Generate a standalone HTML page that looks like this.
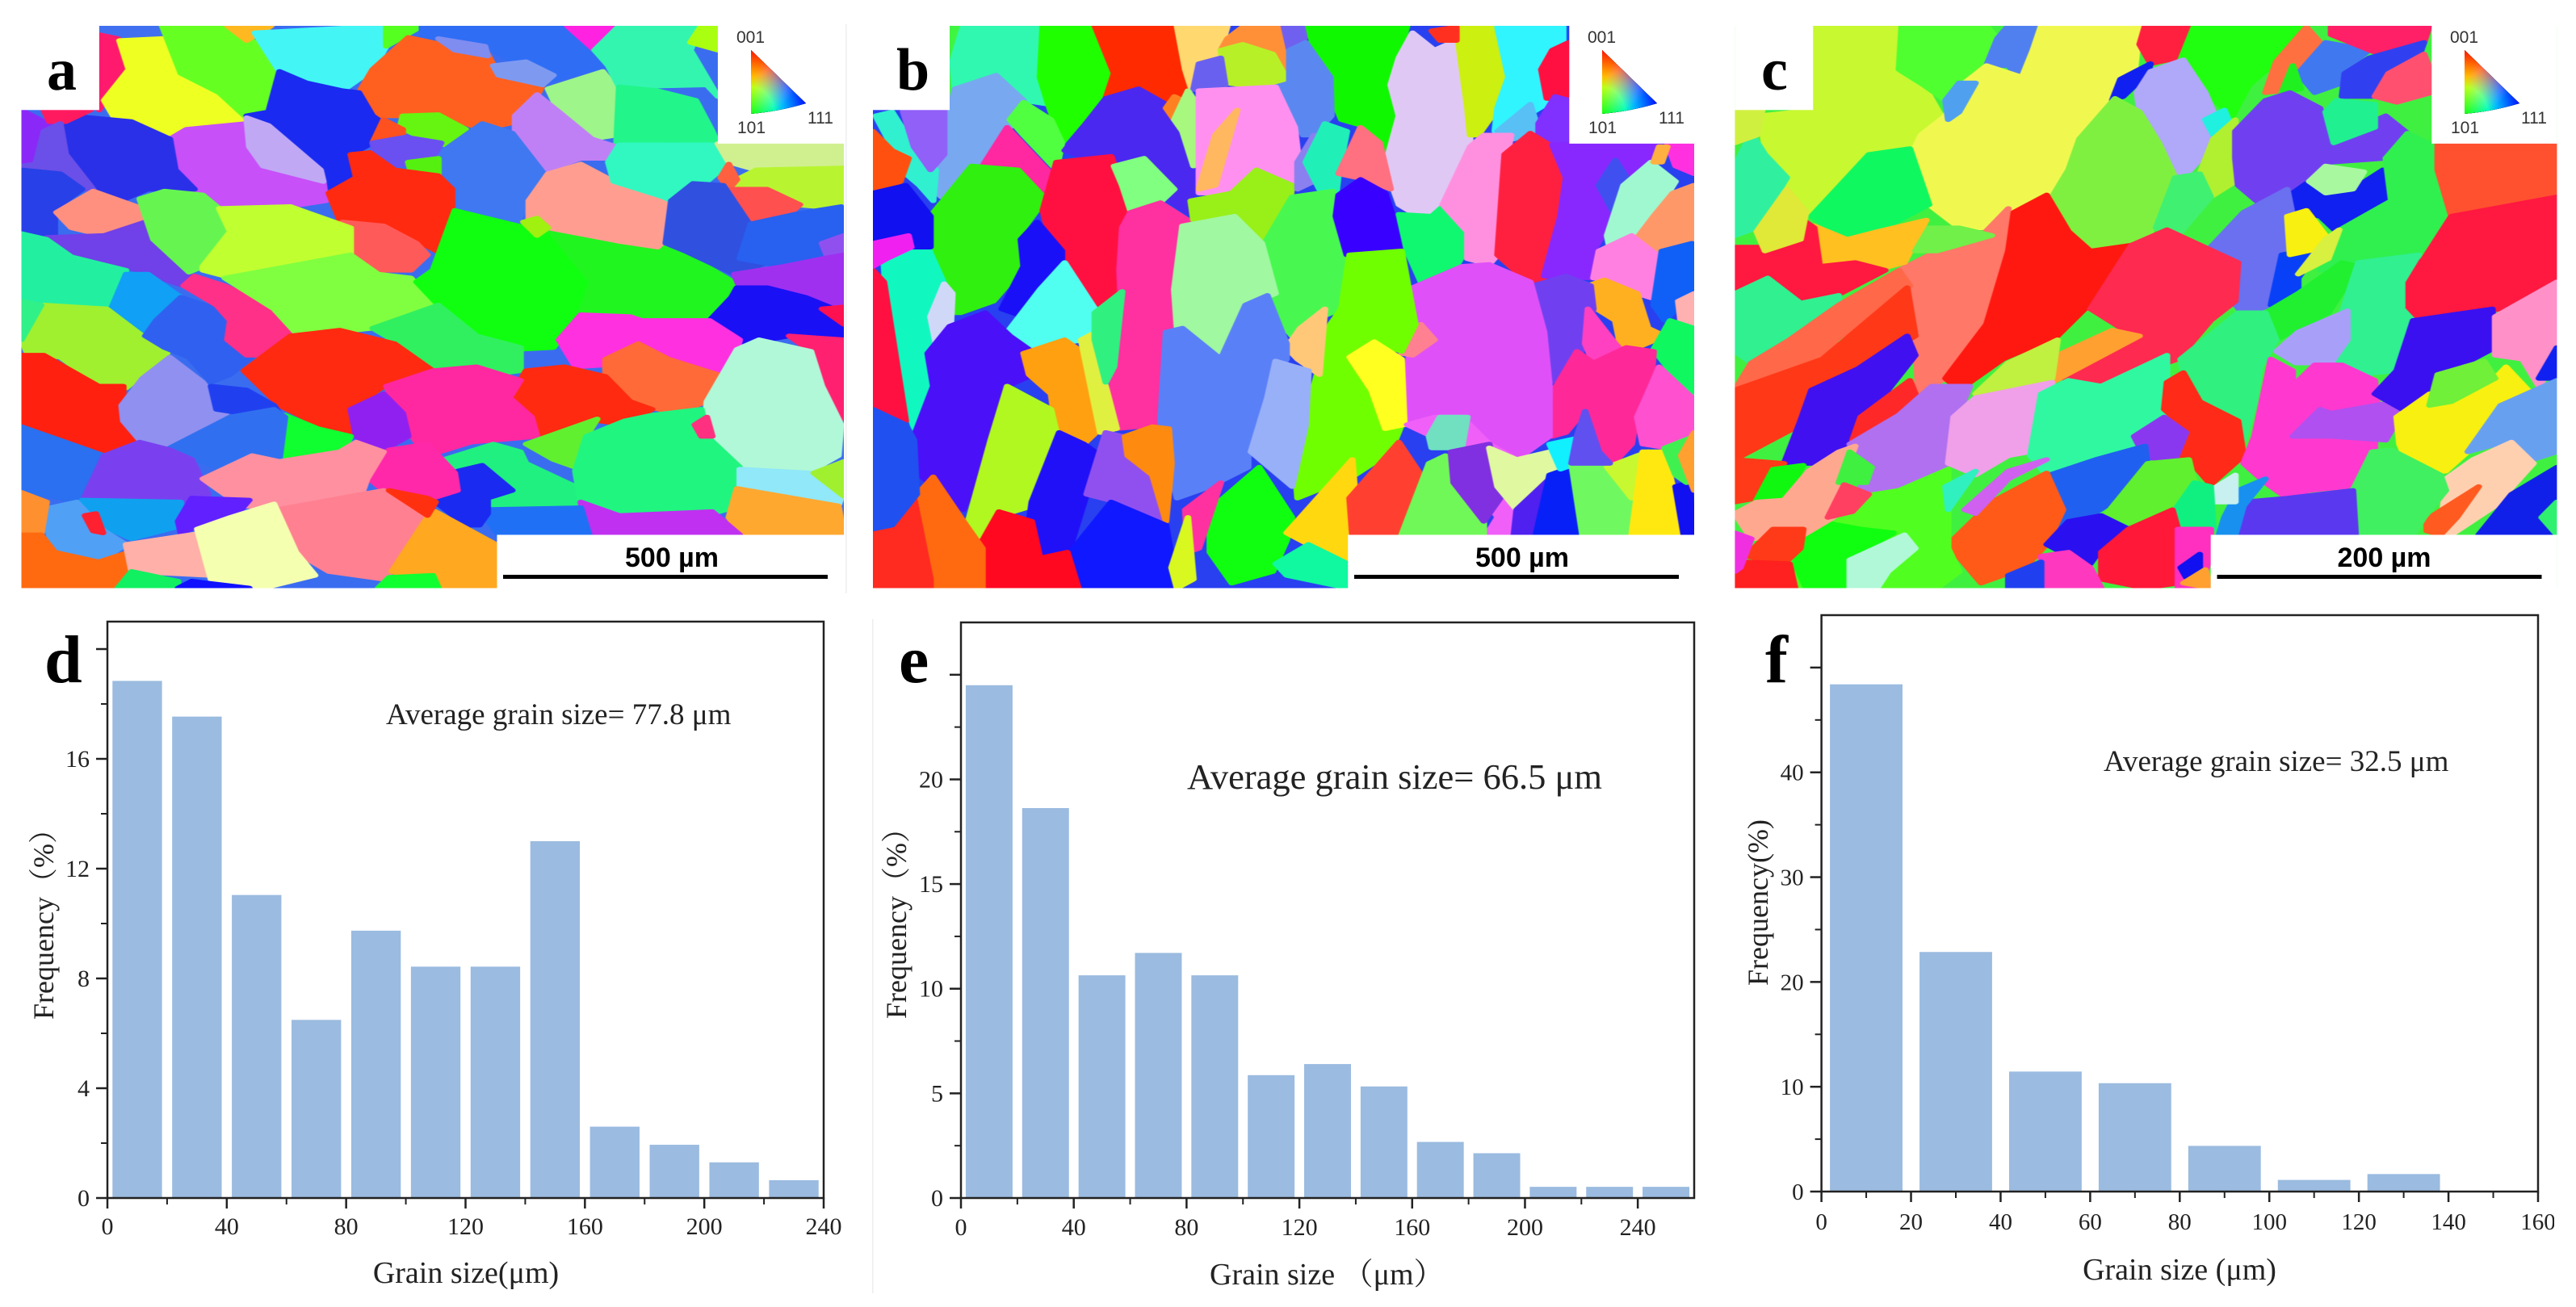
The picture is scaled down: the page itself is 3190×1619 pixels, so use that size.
<!DOCTYPE html>
<html lang="en">
<head>
<meta charset="utf-8">
<title>EBSD grain maps and grain size histograms</title>
<style>
html,body{margin:0;padding:0;background:#fff;width:3190px;height:1619px;overflow:hidden}
svg text{font-family:"Liberation Serif","Noto Serif CJK SC",serif;fill:#222}
.lab{font-weight:bold;fill:#000;font-size:74px}
.sb{font-family:"Liberation Sans",sans-serif;font-weight:bold;font-size:34px;fill:#000;text-anchor:middle}
svg text.ipf{font-family:"Liberation Sans",sans-serif;font-size:21px;fill:#333}
.map{filter:blur(.8px)}
.map polygon{stroke-width:12;stroke-linejoin:round}
.ipf-tri{isolation:isolate}
.ipf-tri path+path{mix-blend-mode:screen}
</style>
</head>
<body>
<svg id="figure" xmlns="http://www.w3.org/2000/svg" width="3190" height="1619" viewBox="0 0 3190 1619">
<defs>
<radialGradient id="ipfR" cx="0" cy="0" r="1.05"><stop offset="0" stop-color="#ff0000"/><stop offset="0.4" stop-color="#ff0000"/><stop offset="1" stop-color="#000"/></radialGradient>
<radialGradient id="ipfG" cx="0" cy="1" r="1.05"><stop offset="0" stop-color="#00ff00"/><stop offset="0.4" stop-color="#00ff00"/><stop offset="1" stop-color="#000"/></radialGradient>
<radialGradient id="ipfB" cx="1" cy="0.85" r="1.05"><stop offset="0" stop-color="#0000ff"/><stop offset="0.4" stop-color="#0000ff"/><stop offset="1" stop-color="#000"/></radialGradient>
</defs>
<rect x="1047" y="30" width="1.5" height="705" fill="#eee"/>
<rect x="1080" y="767" width="1.5" height="835" fill="#eee"/>

<svg x="26.5" y="32" width="1018.5" height="696.5" viewBox="39 67 1501 1456" preserveAspectRatio="none">
<g class="map">
<rect x="0" y="0" width="1600" height="1600" fill="#3a6cf0"/>
<polygon fill="#4070f0" points="181,67 296,67 296,100 215,100 181,90"/>
<polygon fill="#ff1a6e" points="181,90 215,100 235,180 190,260 181,285"/>
<polygon fill="#eeff22" points="218,105 296,100 330,190 400,240 450,310 330,355 215,320 190,260 235,180"/>
<polygon fill="#66ff22" points="296,67 415,67 465,110 510,190 490,300 450,305 400,240 330,190"/>
<polygon fill="#ffb820" points="415,67 495,67 450,105"/>
<polygon fill="#44f5f5" points="465,85 705,67 705,120 680,180 625,235 510,185"/>
<polygon fill="#55ff20" points="705,67 770,67 705,120"/>
<polygon fill="#2f6df5" points="770,67 1130,67 1085,130 1110,170 1000,210 900,130 770,95"/>
<polygon fill="#ff22e0" points="1035,67 1130,67 1085,130"/>
<polygon fill="#ff6020" points="745,97 890,140 910,195 990,220 960,310 880,335 830,310 735,300 680,300 655,240 680,180"/>
<polygon fill="#7f8cf0" points="800,100 885,120 890,145 830,130"/>
<polygon fill="#7e9af0" points="900,170 960,160 1010,195 990,220 910,195"/>
<polygon fill="#1a2af0" points="510,185 560,215 625,235 655,240 680,300 700,320 680,370 640,400 640,470 600,490 590,470 520,400 450,300 490,290"/>
<polygon fill="#66f510" points="735,300 800,297 850,335 810,375 760,350 730,330"/>
<polygon fill="#ff5020" points="680,370 700,310 735,335 735,355"/>
<polygon fill="#9ef58a" points="1000,230 1100,185 1130,240 1125,350 1080,360 1020,290"/>
<polygon fill="#33f5b0" points="1130,67 1280,67 1260,130 1310,250 1290,220 1130,225 1110,170 1085,130"/>
<polygon fill="#aaff10" points="1280,67 1310,67 1310,130 1260,110"/>
<polygon fill="#22f58a" points="1130,225 1200,235 1270,260 1300,340 1310,372 1210,375 1125,375"/>
<polygon fill="#c080f5" points="940,300 980,245 1020,290 1080,360 1125,380 1120,410 1060,410 990,445 940,370"/>
<polygon fill="#3f78f0" points="800,400 880,320 935,345 990,445 965,520 940,585 870,555 820,540 800,470"/>
<polygon fill="#6a50f0" points="680,370 740,355 805,370 790,410 745,425 690,430"/>
<polygon fill="#55f010" points="745,420 800,410 800,460 750,445"/>
<polygon fill="#c850f8" points="310,360 340,335 450,320 460,395 590,470 595,520 525,535 400,530 340,500 315,430"/>
<polygon fill="#c0a8f5" points="450,305 490,325 585,440 590,470 480,430 455,380"/>
<polygon fill="#ff2a10" points="640,400 675,395 720,440 800,455 825,490 825,590 810,660 770,630 720,590 660,575 620,570 600,500 650,460"/>
<polygon fill="#ff5a5a" points="625,575 700,585 760,630 780,660 750,700 690,700 640,660"/>
<polygon fill="#2a30e8" points="110,360 130,300 240,315 310,360 320,440 355,490 270,490 220,520 170,490 120,400"/>
<polygon fill="#8a28f8" points="39,285 80,315 100,315 100,380 65,425 39,430"/>
<polygon fill="#ff1a60" points="80,285 165,285 120,315 90,315"/>
<polygon fill="#6a50e8" points="80,340 110,320 120,400 170,490 140,490 100,440 39,430 65,425"/>
<polygon fill="#2840e8" points="39,440 110,450 150,490 100,540 100,610 39,600"/>
<polygon fill="#ff9080" points="103,550 170,495 260,540 265,570 190,610 130,590"/>
<polygon fill="#7040e8" points="85,615 190,610 265,575 310,660 345,710 335,740 230,690 130,660"/>
<polygon fill="#22f0a0" points="39,605 85,620 130,665 230,700 225,760 195,800 100,780 39,780"/>
<polygon fill="#10a0f5" points="230,710 270,710 330,770 285,830 260,860 200,810"/>
<polygon fill="#a0f030" points="39,880 80,790 195,800 260,870 305,915 230,1005 180,995 110,925 50,915"/>
<polygon fill="#30f088" points="39,780 75,790 39,880"/>
<polygon fill="#3060f0" points="285,830 330,770 395,800 420,830 415,880 460,925 420,970 385,990 345,925 300,900 265,870"/>
<polygon fill="#ff3088" points="335,740 355,715 410,740 500,800 545,860 510,920 450,920 415,880 420,830 395,790"/>
<polygon fill="#66f550" points="255,515 300,495 370,505 400,540 420,600 370,690 345,705 280,620"/>
<polygon fill="#c0ff30" points="400,540 530,535 640,590 640,660 520,690 410,715 370,700 370,690 420,600"/>
<polygon fill="#80ff40" points="410,720 640,660 690,710 750,720 790,790 680,850 545,870 500,800"/>
<polygon fill="#10ff10" points="790,700 830,545 960,590 1010,610 1080,730 1060,800 1010,900 940,905 870,870 800,790 760,730"/>
<polygon fill="#20f520" points="1000,590 1130,625 1215,640 1290,690 1350,740 1335,770 1295,830 1190,830 1120,810 1060,810 1080,730"/>
<polygon fill="#30f060" points="680,850 800,790 870,870 950,900 950,960 900,970 830,950 780,960 740,900"/>
<polygon fill="#ff9e90" points="965,520 1000,450 1060,425 1120,470 1210,510 1230,600 1200,640 1130,625 1000,590 965,570"/>
<polygon fill="#a0f010" points="955,575 980,565 1000,590 980,610"/>
<polygon fill="#30f8c0" points="1110,420 1130,375 1310,375 1340,410 1290,470 1225,520 1210,510 1120,470"/>
<polygon fill="#d0f090" points="1310,372 1540,372 1540,440 1380,440 1330,420"/>
<polygon fill="#b8f530" points="1345,465 1380,440 1540,435 1535,540 1450,530 1400,490 1340,490"/>
<polygon fill="#ff6040" points="1315,460 1330,425 1345,465 1330,490"/>
<polygon fill="#ff5050" points="1335,490 1400,490 1460,530 1440,555 1375,575"/>
<polygon fill="#3050e0" points="1225,520 1265,475 1320,480 1365,575 1400,680 1340,710 1250,650 1215,630"/>
<polygon fill="#2860f0" points="1370,580 1450,555 1535,535 1540,650 1500,660 1430,690 1350,670"/>
<polygon fill="#9050f0" points="1500,630 1540,610 1540,650 1510,665"/>
<polygon fill="#a030f0" points="1340,710 1430,690 1500,670 1540,660 1540,800 1470,770 1400,745 1350,745"/>
<polygon fill="#1a10f5" points="1295,830 1335,770 1345,745 1400,745 1470,770 1540,810 1540,880 1440,870 1360,890"/>
<polygon fill="#ff1050" points="1500,800 1540,795 1540,840"/>
<polygon fill="#ff30e0" points="1020,880 1060,815 1150,820 1170,830 1190,830 1295,830 1350,880 1340,930 1310,970 1220,930 1160,890 1105,920 1105,945 1050,950"/>
<polygon fill="#ff6a38" points="1105,930 1165,890 1220,930 1310,970 1320,1010 1290,1040 1230,1070 1150,1040 1105,985"/>
<polygon fill="#ff2070" points="1440,870 1540,880 1540,1080 1530,1090 1500,1000 1480,910"/>
<polygon fill="#b0f8d8" points="1290,1040 1345,905 1385,880 1480,910 1500,1000 1535,1100 1530,1180 1480,1220 1360,1215 1285,1130"/>
<polygon fill="#ff2a10" points="445,960 530,870 620,855 720,890 790,960 700,1000 640,1060 640,1120 610,1120 510,1050"/>
<polygon fill="#ff2a10" points="930,1030 960,960 1030,950 1105,975 1150,1040 1190,1060 1140,1100 1070,1085 985,1145 970,1080"/>
<polygon fill="#ff28a0" points="705,1000 790,960 870,950 950,985 930,1030 970,1080 980,1130 860,1145 780,1180 735,1100"/>
<polygon fill="#9020f0" points="640,1060 700,1020 735,1070 745,1130 700,1165 650,1130"/>
<polygon fill="#10ff30" points="520,1075 580,1110 640,1130 625,1170 510,1195 510,1130"/>
<polygon fill="#ff2010" points="39,920 80,920 180,1000 225,1000 225,1100 255,1140 185,1180 110,1140 39,1100"/>
<polygon fill="#9090f0" points="222,1050 260,980 310,925 370,990 420,1090 380,1130 310,1160 255,1140 225,1090"/>
<polygon fill="#2040f0" points="385,1000 450,1010 500,1050 510,1070 440,1070 395,1060"/>
<polygon fill="#3070f0" points="310,1160 420,1080 500,1060 520,1080 510,1190 430,1230 340,1180"/>
<polygon fill="#2a70f0" points="39,1105 110,1140 190,1180 160,1270 150,1300 39,1270"/>
<polygon fill="#7a40f0" points="190,1180 255,1145 310,1165 350,1190 380,1280 330,1300 150,1300 160,1270"/>
<polygon fill="#20f080" points="810,1190 900,1150 950,1170 960,1200 1050,1260 1060,1310 890,1330 900,1290 860,1210 830,1220"/>
<polygon fill="#60f030" points="960,1150 1090,1085 1070,1130 1050,1210 1010,1190"/>
<polygon fill="#20f580" points="1050,1220 1070,1130 1140,1090 1190,1075 1280,1060 1290,1130 1350,1210 1350,1310 1300,1330 1130,1335 1060,1300"/>
<polygon fill="#ff3080" points="1268,1100 1290,1080 1300,1130 1280,1130"/>
<polygon fill="#90e8f8" points="1350,1215 1480,1225 1535,1290 1530,1310 1350,1265"/>
<polygon fill="#a0f030" points="1485,1225 1540,1195 1540,1285"/>
<polygon fill="#ffa830" points="1330,1340 1345,1265 1530,1310 1540,1385 1355,1385"/>
<polygon fill="#c030f0" points="1060,1300 1130,1335 1300,1325 1350,1385 1070,1385"/>
<polygon fill="#2070f5" points="875,1320 1060,1315 1075,1385 910,1385"/>
<polygon fill="#1a2af0" points="795,1300 835,1220 880,1205 935,1270 890,1290 890,1330 875,1360 850,1360"/>
<polygon fill="#ff28a8" points="670,1235 710,1165 780,1150 830,1225 835,1270 790,1290 700,1270"/>
<polygon fill="#ff90a0" points="370,1240 460,1180 510,1195 620,1170 650,1145 700,1170 670,1240 660,1280 510,1315 440,1310"/>
<polygon fill="#ff8090" points="505,1320 660,1280 700,1270 780,1340 770,1400 700,1500 600,1480 540,1430"/>
<polygon fill="#10a0f0" points="150,1295 330,1300 335,1360 240,1395 200,1370 155,1340"/>
<polygon fill="#6020ff" points="325,1350 350,1290 455,1295 415,1360 385,1350 330,1380"/>
<polygon fill="#50a0f5" points="75,1320 140,1300 190,1375 230,1410 180,1455 100,1430"/>
<polygon fill="#ff2030" points="155,1335 175,1330 188,1380 170,1375"/>
<polygon fill="#ff9030" points="39,1275 85,1300 75,1385 39,1385"/>
<polygon fill="#ff6a10" points="39,1385 75,1385 100,1430 180,1455 235,1430 240,1480 215,1523 39,1523"/>
<polygon fill="#ffb0a8" points="230,1410 370,1380 380,1490 240,1480"/>
<polygon fill="#f5ffb0" points="360,1370 420,1340 500,1305 540,1430 575,1490 480,1523 385,1500"/>
<polygon fill="#ffa820" points="780,1340 795,1325 905,1410 907,1523 800,1523 715,1480"/>
<polygon fill="#ff3010" points="710,1270 780,1290 795,1300 780,1335"/>
<polygon fill="#10f060" points="215,1523 240,1480 325,1505 325,1523"/>
<polygon fill="#1010ff" points="325,1523 350,1505 455,1523"/>
<polygon fill="#10ff30" points="690,1523 710,1495 790,1490 800,1523"/>
</g>
<rect x="39" y="60" width="142" height="225" fill="#fff"/>
<rect x="1310" y="60" width="235" height="312" fill="#fff"/>
<rect x="907" y="1385" width="640" height="145" fill="#fff"/>
</svg>

<svg x="1081" y="32" width="1017" height="696.5" viewBox="25 67 1499 1456" preserveAspectRatio="none">
<g class="map">
<rect x="0" y="0" width="1600" height="1600" fill="#2840f0"/>
<polygon fill="#40f540" points="165,67 190,67 170,210 165,285"/>
<polygon fill="#30f8b0" points="190,67 335,67 330,200 345,270 300,260 250,195 175,230 170,160"/>
<polygon fill="#20ff00" points="335,67 430,67 465,190 450,260 400,320 370,370 345,270 330,200"/>
<polygon fill="#ff2a00" points="430,67 580,67 600,230 560,270 510,230 450,255 465,190"/>
<polygon fill="#ffd870" points="580,67 672,67 655,150 620,165 605,225 595,180"/>
<polygon fill="#ff9038" points="672,100 700,70 770,67 785,200 755,140 700,115 660,130"/>
<polygon fill="#7060f0" points="775,67 820,67 810,110 785,130"/>
<polygon fill="#b8f028" points="660,130 700,115 755,140 785,215 730,225 670,215"/>
<polygon fill="#6a60f0" points="620,165 660,150 668,220 610,232"/>
<polygon fill="#10f800" points="820,67 1000,67 985,150 970,220 985,300 965,395 930,330 880,310 860,240 830,130"/>
<polygon fill="#5a88f0" points="760,225 785,215 785,130 815,110 860,200 862,300 830,350 810,350 790,290"/>
<polygon fill="#e0c8f5" points="1010,85 1050,130 1090,105 1115,300 1115,380 1095,440 1060,540 1020,560 985,530 960,430 985,300 970,220 985,150"/>
<polygon fill="#ccf010" points="1090,70 1165,70 1185,200 1165,280 1130,350 1115,350 1110,280"/>
<polygon fill="#30f5ff" points="1165,70 1285,67 1285,130 1245,180 1265,260 1230,290 1195,340 1160,340 1165,280 1185,200"/>
<polygon fill="#ff1040" points="1265,130 1295,110 1296,260 1255,255 1245,180"/>
<polygon fill="#ff3020" points="1045,80 1090,70 1090,105 1060,105"/>
<polygon fill="#58c0f5" points="1165,340 1225,270 1240,340 1195,360"/>
<polygon fill="#8030ff" points="1240,320 1270,250 1296,260 1296,372 1240,372"/>
<polygon fill="#78a8f0" points="155,330 175,230 250,195 300,260 275,330 225,420 150,510 130,480"/>
<polygon fill="#30f0d0" points="30,300 60,290 100,380 140,440 135,520 110,480 85,450 75,420"/>
<polygon fill="#9060f8" points="80,288 155,288 155,400 130,440 100,380"/>
<polygon fill="#ff5010" points="25,340 60,390 90,410 75,470 25,500"/>
<polygon fill="#50ff40" points="275,310 300,265 350,310 370,370 360,440 300,350"/>
<polygon fill="#ff28a0" points="225,430 270,330 350,450 345,510 285,440"/>
<polygon fill="#4a28f0" points="375,390 450,255 510,230 560,270 600,330 605,430 615,470 600,550 535,490 470,410 415,410"/>
<polygon fill="#30f010" points="130,560 205,430 290,440 340,515 285,620 300,690 245,780 185,810 165,810 130,650"/>
<polygon fill="#ff1040" points="335,545 360,420 460,405 495,545 480,590 475,750 440,810 410,730 380,670 345,600"/>
<polygon fill="#80ff80" points="465,430 520,410 575,490 530,550 495,545 480,480"/>
<polygon fill="#ff30a0" points="480,590 495,550 550,525 600,570 590,650 570,810 560,960 545,1100 470,1110 460,970 480,860 475,700"/>
<polygon fill="#ff8020" points="560,280 575,250 590,260 575,310"/>
<polygon fill="#a8f880" points="575,310 600,235 630,300 610,430 590,340"/>
<polygon fill="#ff90f0" points="620,235 760,225 795,330 805,450 790,490 760,450 650,500 620,500"/>
<polygon fill="#ffb860" points="620,490 650,350 690,285 650,480"/>
<polygon fill="#98f018" points="605,520 680,500 725,440 790,480 780,590 735,630 685,570 610,570"/>
<polygon fill="#8a80f0" points="800,420 830,350 830,470 800,490"/>
<polygon fill="#20f0b8" points="815,420 850,320 890,340 875,450 870,510 840,490"/>
<polygon fill="#ff7080" points="875,450 915,330 950,370 970,490 925,465"/>
<polygon fill="#48f850" points="740,630 790,510 865,495 875,560 885,680 880,800 845,820 790,870 760,820"/>
<polygon fill="#3800ff" points="870,560 875,505 915,465 960,500 995,650 920,650 890,660"/>
<polygon fill="#10f870" points="985,555 1045,560 1065,535 1100,535 1110,640 1090,690 1030,745 1000,650"/>
<polygon fill="#ff90e0" points="1065,530 1115,380 1140,350 1190,350 1175,450 1165,660 1150,685 1110,670 1110,600"/>
<polygon fill="#ff2040" points="1165,660 1178,400 1225,345 1265,380 1290,460 1260,600 1250,720 1220,730"/>
<polygon fill="#8828ff" points="1265,375 1460,372 1440,420 1390,480 1365,590 1340,650 1340,720 1250,715 1280,560 1290,460"/>
<polygon fill="#4050f0" points="1350,480 1380,415 1410,480 1375,545"/>
<polygon fill="#a0f8d0" points="1365,610 1395,480 1445,420 1490,470 1450,560 1410,610 1375,680"/>
<polygon fill="#ff9868" points="1415,625 1450,560 1485,500 1523,480 1523,620 1460,650"/>
<polygon fill="#ff30e0" points="1475,372 1524,372 1524,450 1490,430"/>
<polygon fill="#ffb040" points="1450,420 1460,380 1475,380 1465,420"/>
<polygon fill="#ff80e0" points="1340,720 1350,650 1410,610 1465,670 1465,780 1420,760 1360,725"/>
<polygon fill="#1060f8" points="1465,650 1520,630 1523,760 1500,790 1470,830 1450,790"/>
<polygon fill="#ffb0b0" points="1495,780 1524,760 1524,840 1500,840"/>
<polygon fill="#ffb020" points="1330,740 1360,725 1420,760 1440,850 1470,870 1420,900 1390,900 1380,830 1335,790"/>
<polygon fill="#10f860" points="1450,905 1480,830 1524,850 1524,1035 1480,960"/>
<polygon fill="#7040f0" points="1230,740 1290,715 1335,740 1340,800 1320,900 1300,970 1260,990 1250,860"/>
<polygon fill="#ff40c0" points="1325,890 1330,800 1380,890 1390,905 1340,940"/>
<polygon fill="#ff2898" points="1260,1030 1310,910 1340,940 1400,900 1450,910 1445,1000 1420,1070 1410,1150 1380,1195 1350,1170 1320,1070 1290,1120 1265,1130"/>
<polygon fill="#ff50d0" points="1420,1080 1445,1000 1460,950 1524,1035 1524,1130 1475,1160 1430,1150"/>
<polygon fill="#e050f8" points="1000,960 1015,800 1010,745 1100,690 1150,685 1225,730 1250,860 1260,1000 1260,1130 1200,1190 1150,1150 1100,1080 1040,1070 1000,1100"/>
<polygon fill="#ff8090" points="990,915 1025,840 1050,880 1010,920"/>
<polygon fill="#70ff00" points="880,800 895,660 990,650 1015,840 990,910 940,885 900,925 945,1010 990,1100 970,1170 905,1230 800,1290 795,1200 830,1000 860,840"/>
<polygon fill="#ffff20" points="895,925 940,885 990,930 995,1100 960,1110 935,1010"/>
<polygon fill="#ffc878" points="780,900 805,850 850,800 840,970 800,930"/>
<polygon fill="#a0f8a0" points="575,750 590,585 685,560 735,630 760,760 710,790 660,930 600,860 580,850"/>
<polygon fill="#5a80f8" points="560,860 590,850 660,930 705,790 745,765 780,890 780,930 740,1030 710,1170 710,1210 640,1260 580,1290 550,1090"/>
<polygon fill="#98b0f8" points="715,1170 745,1030 760,935 820,960 815,1100 790,1260 740,1200"/>
<polygon fill="#10f8c0" points="45,680 70,660 125,640 155,735 130,790 130,870 125,910 135,1000 105,1130 75,1000 50,800"/>
<polygon fill="#d0d8f8" points="130,820 155,735 170,760 165,905 145,925"/>
<polygon fill="#ff1040" points="25,700 45,730 85,1090 25,1060"/>
<polygon fill="#1010f0" points="25,500 85,480 130,560 130,640 75,640 25,630"/>
<polygon fill="#f020f0" points="25,630 90,610 95,640 50,670 25,690"/>
<polygon fill="#1a10f8" points="295,620 325,575 370,650 370,685 300,820 260,800 300,690"/>
<polygon fill="#50fff0" points="265,870 330,750 375,680 435,810 410,880 300,905"/>
<polygon fill="#4a10f8" points="125,915 165,845 230,810 275,870 310,905 310,975 270,1000 280,1060 240,1140 190,1320 110,1230 100,1130 135,1000"/>
<polygon fill="#ffa010" points="300,915 375,880 405,910 440,1060 440,1110 410,1150 360,1120 350,1020 310,970"/>
<polygon fill="#e0f040" points="405,880 425,865 470,1110 440,1120"/>
<polygon fill="#30f080" points="430,810 480,755 465,950 450,990 430,880"/>
<polygon fill="#b0f820" points="195,1370 240,1140 270,1000 350,1060 360,1120 340,1300 270,1330 225,1400"/>
<polygon fill="#2010f8" points="315,1300 365,1120 410,1150 450,1190 415,1280 380,1440 330,1440 310,1350"/>
<polygon fill="#9050f0" points="450,1120 480,1130 490,1180 535,1230 555,1350 470,1300 415,1280"/>
<polygon fill="#ff8a10" points="485,1130 535,1105 565,1110 570,1200 560,1350 535,1230 490,1180"/>
<polygon fill="#1018ff" points="380,1440 460,1300 560,1360 580,1523 400,1523 390,1480"/>
<polygon fill="#ff0820" points="225,1400 255,1325 315,1350 330,1445 380,1430 400,1523 222,1523 230,1430"/>
<polygon fill="#ff6a10" points="100,1290 135,1235 195,1360 225,1420 225,1523 130,1523 115,1400"/>
<polygon fill="#ff2a20" points="25,1370 50,1365 100,1290 130,1500 130,1523 25,1523"/>
<polygon fill="#2050f0" points="25,1060 85,1100 100,1140 105,1280 60,1360 25,1370"/>
<polygon fill="#10ff10" points="640,1320 730,1210 790,1340 780,1400 755,1480 680,1510 640,1430"/>
<polygon fill="#ff30a0" points="595,1320 660,1250 620,1420 600,1430"/>
<polygon fill="#d8f820" points="570,1470 600,1340 610,1500 580,1523"/>
<polygon fill="#ffd810" points="780,1380 900,1190 905,1280 895,1385 892,1460 820,1410"/>
<polygon fill="#10f8a0" points="760,1460 820,1410 892,1460 892,1523 780,1490"/>
<polygon fill="#ff4030" points="895,1290 985,1145 1025,1230 1035,1310 990,1385 900,1385"/>
<polygon fill="#f060f8" points="1000,1100 1050,1080 1100,1080 1150,1150 1200,1190 1260,1200 1215,1270 1195,1385 1145,1385 1165,1340 1090,1160"/>
<polygon fill="#70f858" points="1040,1200 1070,1180 1140,1340 1140,1385 990,1385"/>
<polygon fill="#70e0c0" points="1040,1130 1060,1080 1110,1080 1100,1160 1045,1160"/>
<polygon fill="#8030e0" points="1080,1170 1150,1150 1170,1290 1140,1350 1085,1250"/>
<polygon fill="#e0f8a0" points="1150,1160 1200,1190 1260,1170 1270,1220 1200,1320 1165,1260"/>
<polygon fill="#5020f0" points="1200,1320 1260,1240 1235,1385 1195,1385"/>
<polygon fill="#0820f8" points="1235,1385 1260,1230 1290,1215 1320,1385"/>
<polygon fill="#10f0ff" points="1260,1150 1310,1135 1310,1200 1280,1215"/>
<polygon fill="#70f860" points="1300,1200 1370,1210 1410,1290 1410,1385 1320,1385"/>
<polygon fill="#c8f830" points="1365,1210 1420,1180 1440,1170 1410,1290"/>
<polygon fill="#ffe810" points="1410,1385 1430,1170 1470,1170 1505,1385"/>
<polygon fill="#1010f0" points="1490,1260 1515,1250 1524,1385 1505,1385"/>
<polygon fill="#6050f0" points="1310,1130 1325,1065 1350,1170 1370,1200 1300,1200"/>
<polygon fill="#40f050" points="1470,1160 1524,1130 1510,1250 1490,1230"/>
<polygon fill="#ffa030" points="1500,1180 1524,1120 1524,1270"/>
</g>
<rect x="20" y="60" width="145" height="225" fill="#fff"/>
<rect x="1296" y="60" width="235" height="312" fill="#fff"/>
<rect x="892" y="1385" width="640" height="145" fill="#fff"/>
</svg>

<svg x="2148.4" y="32" width="1018" height="696.5" viewBox="30 67 1503 1456" preserveAspectRatio="none">
<g class="map">
<rect x="0" y="0" width="1600" height="1600" fill="#40f040"/>
<polygon fill="#c8f830" points="173,67 335,67 330,180 375,220 415,320 345,390 270,405 180,560 100,510 125,460 85,380 75,300 173,285"/>
<polygon fill="#50ff30" points="335,67 490,67 510,100 480,180 440,215 415,260 375,220 330,180"/>
<polygon fill="#5080f0" points="510,100 530,67 590,67 570,130 550,200 530,170 490,170"/>
<polygon fill="#f0f850" points="590,67 770,67 760,200 715,270 660,360 640,460 605,510 540,545 490,590 440,590 385,530 340,440 370,350 415,300 445,220 490,170 555,200 575,130"/>
<polygon fill="#50a0f0" points="415,260 440,215 470,215 440,290 420,310"/>
<polygon fill="#ff2040" points="780,67 870,67 840,150 790,165 770,115"/>
<polygon fill="#20ff10" points="870,67 1075,67 1020,160 970,220 940,300 890,240 845,155"/>
<polygon fill="#1020f0" points="720,260 735,205 790,165 785,190 740,250"/>
<polygon fill="#b0a8f8" points="765,240 790,185 850,155 890,240 905,290 895,390 850,460 810,400 800,350 770,290"/>
<polygon fill="#80f040" points="610,510 640,440 660,360 725,255 770,290 805,370 835,460 800,560 790,600 755,630 680,650 640,600"/>
<polygon fill="#20f0e0" points="890,310 925,285 935,320 905,350"/>
<polygon fill="#b0f030" points="880,450 905,360 945,310 950,390 945,470 900,510"/>
<polygon fill="#40f070" points="800,590 835,460 880,450 900,510 840,610"/>
<polygon fill="#ff7040" points="1000,240 1020,160 1075,70 1100,110 1060,170 1030,235"/>
<polygon fill="#4078f0" points="1060,190 1110,110 1190,130 1145,180 1140,215 1090,240"/>
<polygon fill="#ff2068" points="1120,67 1300,67 1290,110 1220,145 1190,130 1120,90"/>
<polygon fill="#3040f0" points="1145,190 1190,150 1290,110 1280,150 1215,190 1200,250 1140,250"/>
<polygon fill="#ff5070" points="1200,250 1225,190 1290,140 1304,190 1304,240 1240,265"/>
<polygon fill="#20f020" points="1030,240 1050,170 1065,230"/>
<polygon fill="#7040f0" points="945,410 945,340 1000,260 1045,240 1100,280 1110,350 1120,360 1220,300 1260,345 1220,410 1120,420 1060,480 1000,540 950,480"/>
<polygon fill="#20f090" points="1110,290 1130,260 1200,270 1200,330 1125,370"/>
<polygon fill="#1020f0" points="1040,510 1075,475 1110,500 1160,490 1215,440 1230,520 1130,600 1100,560 1050,550"/>
<polygon fill="#a8f8a0" points="1080,470 1110,430 1180,445 1160,490 1110,500"/>
<polygon fill="#30f050" points="1230,520 1220,410 1260,345 1300,372 1330,440 1330,540 1300,640 1270,660 1180,680 1140,690 1100,700 1130,600"/>
<polygon fill="#ff5030" points="1315,372 1533,372 1533,540 1410,540 1340,560 1315,440"/>
<polygon fill="#ff1840" points="1340,560 1533,510 1533,730 1430,800 1290,830 1250,800 1250,730 1290,670"/>
<polygon fill="#6a70f0" points="900,640 960,550 1040,490 1050,560 1030,660 1010,790 960,815 940,780 950,680"/>
<polygon fill="#0840f8" points="1010,790 1030,660 1100,640 1060,720 1060,760"/>
<polygon fill="#f8f010" points="1040,560 1075,545 1110,610 1110,640 1045,660"/>
<polygon fill="#d8f040" points="1060,710 1110,620 1135,595 1115,670"/>
<polygon fill="#20f030" points="1000,810 1060,760 1140,680 1170,690 1115,810 1020,880"/>
<polygon fill="#30f090" points="1140,810 1170,680 1280,660 1250,730 1250,800 1270,830 1240,960 1170,970 1130,940"/>
<polygon fill="#a8a0f8" points="1020,910 1060,860 1150,805 1150,880 1120,940 1055,940"/>
<polygon fill="#ff7868" points="330,700 400,650 475,620 530,540 520,700 490,840 415,980 365,1020 360,860 345,780"/>
<polygon fill="#ff1810" points="415,980 490,840 530,650 540,550 600,505 640,600 680,650 755,635 720,720 670,800 620,870 520,930 440,1010"/>
<polygon fill="#ff2a50" points="680,800 755,635 820,595 950,680 945,780 900,830 870,880 840,930 700,1000 640,990 610,950 770,880"/>
<polygon fill="#ffa030" points="620,920 720,855 770,870 690,930 610,990"/>
<polygon fill="#c0f040" points="470,1020 530,940 620,880 610,980 500,1040"/>
<polygon fill="#10f860" points="170,560 275,400 350,385 385,530 290,600 235,620"/>
<polygon fill="#ffc020" points="150,620 175,585 235,620 290,600 380,570 340,680 300,695 250,680 190,690"/>
<polygon fill="#70f048" points="360,650 385,590 440,590 500,610 400,650"/>
<polygon fill="#ff1840" points="30,640 85,640 150,565 175,590 185,690 250,680 305,700 210,770 150,785 90,720 30,760"/>
<polygon fill="#30f0a0" points="30,430 60,345 85,400 125,460 70,590 30,610"/>
<polygon fill="#e0e838" points="70,600 125,490 160,550 150,620 85,650"/>
<polygon fill="#d0f040" points="30,285 80,285 70,350 30,370"/>
<polygon fill="#30f090" points="30,760 90,720 150,785 220,765 220,800 130,880 60,940 30,910"/>
<polygon fill="#ff6848" points="30,1010 60,940 130,880 220,790 330,700 350,740 215,880 150,1010"/>
<polygon fill="#ff3818" points="30,1190 30,1010 190,930 345,745 360,870 255,960 170,1010 150,1100"/>
<polygon fill="#4010f0" points="120,1200 150,1090 170,1010 255,955 345,870 360,920 310,1010 260,1080 245,1150 170,1200"/>
<polygon fill="#ff2828" points="245,1140 260,1080 350,985 360,1020 330,1070"/>
<polygon fill="#ff3a18" points="30,1300 30,1190 120,1200 70,1290"/>
<polygon fill="#10f810" points="68,1300 100,1215 155,1205 120,1295"/>
<polygon fill="#b070f0" points="240,1150 330,1075 390,1000 460,1000 430,1100 420,1200 350,1250 265,1280"/>
<polygon fill="#f0a0e8" points="420,1200 430,1080 470,1030 610,990 590,1060 570,1170 530,1180 470,1230"/>
<polygon fill="#30f8a0" points="590,1020 640,985 700,1000 820,920 820,1060 760,1150 690,1190 600,1230 570,1180"/>
<polygon fill="#30f080" points="845,930 950,810 1000,810 1020,880 990,950 980,1040 960,1140 940,1080 880,1040 850,965"/>
<polygon fill="#ff2a18" points="815,1060 820,990 850,965 880,1040 950,1090 960,1180 900,1255 860,1190 830,1180 855,1110"/>
<polygon fill="#8a38f0" points="760,1130 815,1080 855,1120 835,1190 780,1185"/>
<polygon fill="#ff38d0" points="980,1130 1010,930 1050,960 1050,1000 1090,945 1140,945 1200,985 1205,1050 1120,1130 1200,1120 1200,1200 1150,1260 1080,1270 1040,1290 1000,1250 960,1200"/>
<polygon fill="#b050f0" points="1050,1130 1100,1060 1120,1070 1240,1040 1245,1080 1220,1140 1120,1130"/>
<polygon fill="#3a10f0" points="1200,1020 1240,960 1270,830 1415,800 1420,900 1340,960 1300,1010 1250,1060"/>
<polygon fill="#ff90c8" points="1420,820 1533,730 1533,930 1500,1000 1470,930 1420,920"/>
<polygon fill="#1020f0" points="1500,980 1533,900 1533,980"/>
<polygon fill="#f8f010" points="1240,1080 1300,1020 1340,1050 1420,980 1440,950 1480,1010 1430,1050 1370,1170 1330,1220 1270,1230 1245,1150"/>
<polygon fill="#70f038" points="1300,1050 1315,970 1400,935 1420,980 1340,1040"/>
<polygon fill="#68a0f0" points="1370,1170 1430,1050 1533,985 1533,1170 1490,1190 1450,1140"/>
<polygon fill="#ffd0b0" points="1330,1240 1380,1190 1450,1145 1490,1200 1420,1310 1340,1385 1320,1385"/>
<polygon fill="#ff5a20" points="1295,1345 1390,1260 1350,1340 1320,1385 1295,1375"/>
<polygon fill="#1020e8" points="1390,1385 1450,1280 1533,1210 1533,1310 1505,1340 1533,1385"/>
<polygon fill="#30f070" points="1505,1340 1533,1300 1533,1385"/>
<polygon fill="#40f060" points="1160,1270 1195,1170 1230,1165 1320,1230 1330,1270 1290,1340 1270,1385 1165,1385"/>
<polygon fill="#5a38f0" points="945,1385 960,1300 1040,1290 1160,1270 1165,1385"/>
<polygon fill="#1890f0" points="925,1340 950,1270 1000,1240 960,1310 945,1385 915,1385"/>
<polygon fill="#c8f0f0" points="900,1270 945,1230 945,1300 900,1300"/>
<polygon fill="#2060f0" points="605,1230 690,1190 780,1155 785,1210 720,1300 620,1390"/>
<polygon fill="#60f030" points="710,1330 785,1200 860,1190 870,1250 835,1320 780,1370"/>
<polygon fill="#10f080" points="835,1320 870,1250 900,1260 905,1370 840,1370"/>
<polygon fill="#ff5a18" points="420,1410 500,1300 600,1225 630,1320 600,1410 560,1470 480,1510"/>
<polygon fill="#2a10f0" points="600,1410 640,1350 700,1335 750,1370 700,1420 680,1460 640,1440"/>
<polygon fill="#ff1838" points="700,1430 750,1370 830,1320 840,1370 840,1510 780,1523 700,1500"/>
<polygon fill="#ff30c0" points="840,1370 900,1370 900,1440 880,1523 840,1523"/>
<polygon fill="#1010f0" points="845,1470 880,1435 880,1470 855,1495"/>
<polygon fill="#ffa030" points="850,1510 890,1475 900,1523"/>
<polygon fill="#ff38c0" points="590,1440 640,1430 680,1470 700,1523 590,1523"/>
<polygon fill="#2040f0" points="530,1490 590,1455 590,1523 530,1523"/>
<polygon fill="#50ff20" points="150,1390 220,1350 240,1290 330,1270 420,1215 420,1320 420,1420 440,1480 400,1523 140,1523"/>
<polygon fill="#10ff10" points="155,1400 200,1355 260,1370 320,1380 270,1420 240,1460 240,1523 160,1523 140,1460"/>
<polygon fill="#b0f8d8" points="240,1523 240,1450 340,1385 360,1420 310,1480 290,1523"/>
<polygon fill="#ffa890" points="30,1330 70,1300 120,1295 165,1220 220,1170 250,1155 225,1250 210,1340 150,1390 60,1395"/>
<polygon fill="#40f040" points="220,1250 240,1170 280,1210 270,1250"/>
<polygon fill="#ff4060" points="200,1340 230,1255 275,1280 245,1325"/>
<polygon fill="#ff3a18" points="50,1440 100,1370 155,1370 150,1420 120,1460"/>
<polygon fill="#ff2020" points="30,1480 50,1455 130,1460 140,1523 30,1523"/>
<polygon fill="#f030e0" points="30,1380 60,1395 40,1470 30,1480"/>
<polygon fill="#30f0c0" points="415,1260 470,1220 420,1320"/>
<polygon fill="#d060f0" points="450,1320 530,1220 600,1190 530,1240 470,1330"/>
</g>
<rect x="25" y="60" width="148" height="225" fill="#fff"/>
<rect x="1304" y="60" width="235" height="312" fill="#fff"/>
<rect x="900" y="1385" width="640" height="145" fill="#fff"/>
</svg>

<text class="lab" x="58" y="111">a</text>
<text class="lab" x="1110" y="111">b</text>
<text class="lab" x="2181" y="111">c</text>

<g>
<g class="ipf-tri">
<path d="M930 62 L998 128 Q965 138 930 141 Z" fill="#000"/>
<path d="M930 62 L998 128 Q965 138 930 141 Z" fill="url(#ipfR)"/>
<path d="M930 62 L998 128 Q965 138 930 141 Z" fill="url(#ipfG)"/>
<path d="M930 62 L998 128 Q965 138 930 141 Z" fill="url(#ipfB)"/>
</g>
<text class="ipf" x="912" y="53">001</text>
<text class="ipf" x="913" y="165">101</text>
<text class="ipf" x="1000" y="153">111</text>
</g>
<g transform="translate(1054 0)">
<g class="ipf-tri">
<path d="M930 62 L998 128 Q965 138 930 141 Z" fill="#000"/>
<path d="M930 62 L998 128 Q965 138 930 141 Z" fill="url(#ipfR)"/>
<path d="M930 62 L998 128 Q965 138 930 141 Z" fill="url(#ipfG)"/>
<path d="M930 62 L998 128 Q965 138 930 141 Z" fill="url(#ipfB)"/>
</g>
<text class="ipf" x="912" y="53">001</text>
<text class="ipf" x="913" y="165">101</text>
<text class="ipf" x="1000" y="153">111</text>
</g>
<g transform="translate(2122 0)">
<g class="ipf-tri">
<path d="M930 62 L998 128 Q965 138 930 141 Z" fill="#000"/>
<path d="M930 62 L998 128 Q965 138 930 141 Z" fill="url(#ipfR)"/>
<path d="M930 62 L998 128 Q965 138 930 141 Z" fill="url(#ipfG)"/>
<path d="M930 62 L998 128 Q965 138 930 141 Z" fill="url(#ipfB)"/>
</g>
<text class="ipf" x="912" y="53">001</text>
<text class="ipf" x="913" y="165">101</text>
<text class="ipf" x="1000" y="153">111</text>
</g>

<rect x="623" y="712" width="402" height="5" fill="#000"/>
<text class="sb" x="832" y="702">500 µm</text>
<rect x="1677" y="712" width="402" height="5" fill="#000"/>
<text class="sb" x="1885" y="702">500 µm</text>
<rect x="2745.5" y="712" width="402" height="5" fill="#000"/>
<text class="sb" x="2952.5" y="702">200 µm</text>

<g id="chart-d"></g>
<g id="chart-e"></g>
<g id="chart-f"></g>
<rect x="3163" y="1490" width="27" height="45" fill="#fff"/>

<text class="lab" x="55" y="845" style="font-size:84px">d</text>
<text class="lab" x="1113" y="845" style="font-size:84px">e</text>
<text class="lab" x="2186" y="845" style="font-size:84px">f</text>

<text x="478" y="897" font-size="37">Average grain size= 77.8 μm</text>
<text x="1470" y="977" font-size="44.5">Average grain size= 66.5 μm</text>
<text x="2605" y="955" font-size="37">Average grain size= 32.5 μm</text>

<text x="577" y="1589" font-size="38" text-anchor="middle">Grain size(μm)</text>
<text x="1498" y="1591" font-size="38">Grain size （μm）</text>
<text x="2699" y="1585" font-size="38" text-anchor="middle">Grain size (μm)</text>
<text x="66" y="1136" font-size="36" text-anchor="middle" transform="rotate(-90 66 1136)">Frequency（%）</text>
<text x="1122" y="1135" font-size="36" text-anchor="middle" transform="rotate(-90 1122 1135)">Frequency（%）</text>
<text x="2189" y="1118" font-size="36" text-anchor="middle" transform="rotate(-90 2189 1118)">Frequency(%)</text>
</svg>

<script>
const dFrequency = [18.84, 17.54, 11.04, 6.49, 9.74, 8.43, 8.43, 13.0, 2.6, 1.94, 1.3, 0.65];
const eFrequency = [24.5, 18.63, 10.64, 11.71, 10.64, 5.87, 6.4, 5.33, 2.68, 2.14, 0.535, 0.535, 0.535];
const fFrequency = [48.4, 22.86, 11.45, 10.34, 4.36, 1.11, 1.67];

const dXTicks = [0, 40, 80, 120, 160, 200, 240];
const eXTicks = [0, 40, 80, 120, 160, 200, 240];
const fXTicks = [0, 20, 40, 60, 80, 100, 120, 140, 160];

const dYTicks = [0, 4, 8, 12, 16, 20];
const eYTicks = [0, 5, 10, 15, 20, 25];
const fYTicks = [0, 10, 20, 30, 40, 50];

const dYTickLabels = ['0', '4', '8', '12', '16', ''];
const eYTickLabels = ['0', '5', '10', '15', '20', ''];
const fYTickLabels = ['0', '10', '20', '30', '40', ''];

const SVG_NS = 'http://www.w3.org/2000/svg';
const INK = '#222';
const BAR_COLOR = '#9bbbe0';

document.querySelectorAll('.map polygon').forEach(p => p.setAttribute('stroke', p.getAttribute('fill')));

function make(parent, tag, attrs) {
  const el = document.createElementNS(SVG_NS, tag);
  for (const key in attrs) el.setAttribute(key, attrs[key]);
  parent.appendChild(el);
  return el;
}

function drawHistogram(cfg) {
  const root = document.getElementById(cfg.id);
  const xScale = v => cfg.left + (v / cfg.xMax) * (cfg.right - cfg.left);
  const yScale = v => cfg.bottom - (v / cfg.yMax) * (cfg.bottom - cfg.top);

  cfg.values.forEach((value, i) => {
    const center = (i + 0.5) * cfg.binWidth;
    const bar = make(root, 'rect', {
      x: xScale(center - cfg.barWidth / 2),
      y: yScale(value),
      width: xScale(cfg.barWidth) - xScale(0),
      height: yScale(0) - yScale(value),
      fill: BAR_COLOR
    });
    
    
  });

  const frame = make(root, 'rect', {
    x: cfg.left, y: cfg.top,
    width: cfg.right - cfg.left, height: cfg.bottom - cfg.top,
    fill: 'none', stroke: INK, 'stroke-width': 2.5
  });
  
  

  cfg.xTicks.forEach((tick, i) => {
    const x = xScale(tick);
    const major = make(root, 'line', { x1: x, x2: x, y1: cfg.bottom, y2: cfg.bottom + 13, stroke: INK, 'stroke-width': 2.5 });
    
    

    const label = make(root, 'text', { x: x, y: cfg.bottom + cfg.xLabelGap, 'font-size': cfg.tickFont, 'text-anchor': 'middle' });
    label.textContent = String(tick);
    
    

    const next = cfg.xTicks[i + 1];
    const mid = next === undefined ? tick + (tick - cfg.xTicks[i - 1]) / 2 : (tick + next) / 2;
    if (mid < cfg.xMax) {
      const mx = xScale(mid);
      const minor = make(root, 'line', { x1: mx, x2: mx, y1: cfg.bottom, y2: cfg.bottom + 8, stroke: INK, 'stroke-width': 2 });
      
      
    }
  });

  cfg.yTicks.forEach((tick, i) => {
    const y = yScale(tick);
    const major = make(root, 'line', { x1: cfg.left - 14, x2: cfg.left, y1: y, y2: y, stroke: INK, 'stroke-width': 2.5 });
    
    

    if (cfg.yLabels[i]) {
      const label = make(root, 'text', { x: cfg.left - 22, y: y + 10, 'font-size': cfg.tickFont, 'text-anchor': 'end' });
      label.textContent = cfg.yLabels[i];
      
      
    }

    const next = cfg.yTicks[i + 1];
    if (next !== undefined) {
      const my = yScale((tick + next) / 2);
      const minor = make(root, 'line', { x1: cfg.left - 8, x2: cfg.left, y1: my, y2: my, stroke: INK, 'stroke-width': 2 });
      
      
    }
  });
}

drawHistogram({ id: 'chart-d', key: 'd', left: 133, right: 1020, top: 770, bottom: 1484, xMax: 240, yMax: 21, binWidth: 20, barWidth: 16.6, xLabelGap: 45, tickFont: 30, values: dFrequency, xTicks: dXTicks, yTicks: dYTicks, yLabels: dYTickLabels });
drawHistogram({ id: 'chart-e', key: 'e', left: 1190, right: 2098, top: 771, bottom: 1484, xMax: 260, yMax: 27.5, binWidth: 20, barWidth: 16.6, xLabelGap: 46, tickFont: 30, values: eFrequency, xTicks: eXTicks, yTicks: eYTicks, yLabels: eYTickLabels });
drawHistogram({ id: 'chart-f', key: 'f', left: 2255.6, right: 3143, top: 762, bottom: 1476, xMax: 160, yMax: 55, binWidth: 20, barWidth: 16.2, xLabelGap: 47, tickFont: 29, values: fFrequency, xTicks: fXTicks, yTicks: fYTicks, yLabels: fYTickLabels });
</script>
</body>
</html>
